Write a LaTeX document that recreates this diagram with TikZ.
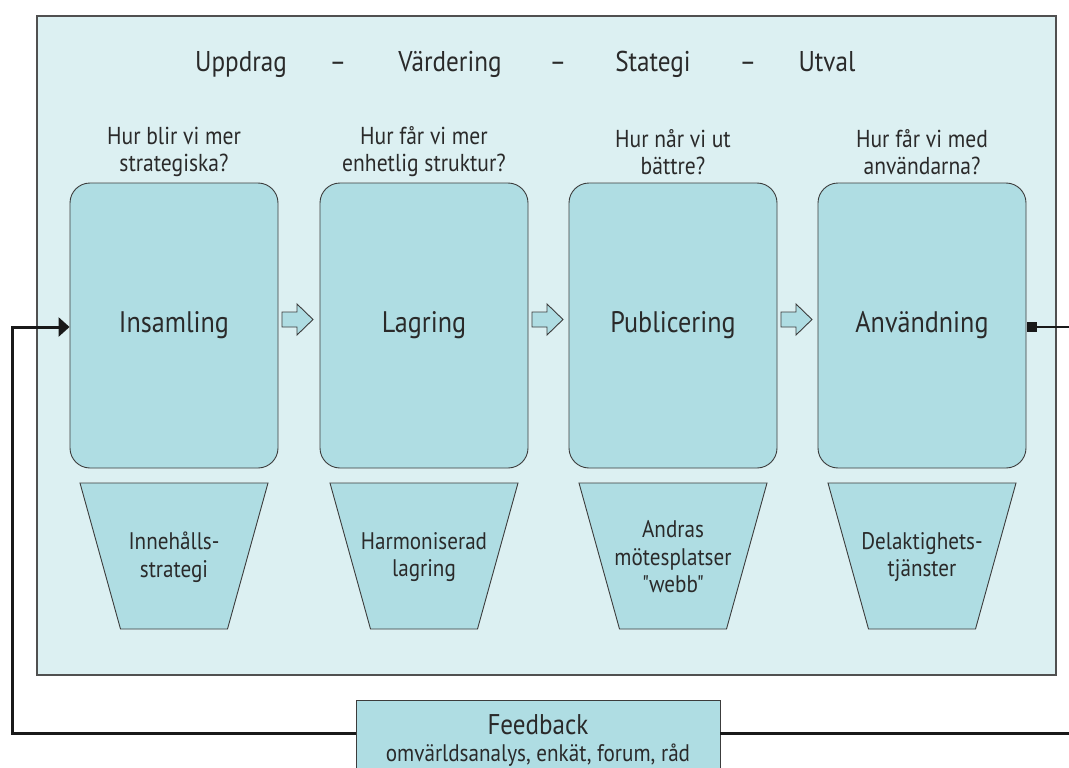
\documentclass[tikz,border=0pt]{standalone}
\usepackage{fontspec}
\setmainfont[FakeStretch=0.88]{PT Sans}
\newfontfamily\plainq[FakeStretch=0.88]{PT Sans}
\usetikzlibrary{arrows.meta}
\definecolor{panelfill}{HTML}{DCF0F2}
\definecolor{boxfill}{HTML}{AFDDE3}
\definecolor{edge}{HTML}{3C3C3C}
\definecolor{txt}{HTML}{2A2A2A}
\tikzset{
  stagebox/.style={draw=edge,line width=0.9pt,fill=boxfill,rounded corners=20pt,minimum width=208pt,minimum height=285pt,inner sep=0pt},
  funnel/.style={draw=edge,line width=0.9pt,fill=boxfill},
  flowarrow/.style={draw=edge,line width=0.9pt,fill=boxfill,line join=miter},
  headtxt/.style={font=\fontsize{28.6}{30}\selectfont,text=txt,anchor=base,inner sep=0pt},
  stagetxt/.style={font=\fontsize{29.7}{32}\selectfont,text=txt,anchor=base,inner sep=0pt},
  qtxt/.style={font=\fontsize{24.5}{27}\selectfont,text=txt,align=center,inner sep=0pt},
  ftxt/.style={font=\fontsize{24}{27.5}\selectfont,text=txt,align=center,inner sep=0pt},
  loop/.style={draw=black!90,line width=3pt},
}
\newcommand{\funnelat}[1]{%
  \draw[funnel] (#1-94,483) -- (#1+94,483) -- (#1+53.5,629) -- (#1-53.5,629) -- cycle;}
\newcommand{\flowat}[1]{%
  \draw[flowarrow] (#1,312) -- (#1+15,312) -- (#1+15,304) -- (#1+31,319.5) -- (#1+15,335) -- (#1+15,327) -- (#1,327) -- cycle;}
\begin{document}
\begin{tikzpicture}[x=1pt,y=-1pt]
\useasboundingbox (0,0) rectangle (1069,768);
\clip (0,0) rectangle (1069,768);
% panel
\node[draw=edge!90,line width=1.6pt,fill=panelfill,minimum width=1019pt,minimum height=659pt,inner sep=0pt] (panel) at (546.5,345.5) {};
% header
\node[headtxt] (h1) at (241,72) {Uppdrag};
\node[headtxt] (d1) at (338,72) {–};
\node[headtxt] (h2) at (450,72) {Värdering};
\node[headtxt] (d2) at (558,72) {–};
\node[headtxt] (h3) at (653,72) {Stategi};
\node[headtxt] (d3) at (748,72) {–};
\node[headtxt] (h4) at (827,72) {Utval};
% questions
\node[qtxt] (q1) at (174,152) {Hur blir vi mer\\strategiska?};
\node[qtxt] (q2) at (424,152) {Hur får vi mer\\enhetlig struktur?};
\node[qtxt] (q3) at (673,152) {Hur når vi ut\\bättre?};
\node[qtxt] (q4) at (922,152) {Hur får vi med\\användarna?};
% stage boxes
\node[stagebox] (b1) at (174,325.5) {};
\node[stagebox] (b2) at (424,325.5) {};
\node[stagebox] (b3) at (673,325.5) {};
\node[stagebox] (b4) at (922,325.5) {};
\node[stagetxt] (t1) at (174,332) {Insamling};
\node[stagetxt] (t2) at (424,332) {Lagring};
\node[stagetxt] (t3) at (673,332) {Publicering};
\node[stagetxt] (t4) at (922,332) {Användning};
% flow arrows
\flowat{282}
\flowat{532}
\flowat{781}
% funnels
\funnelat{174}
\funnelat{424}
\funnelat{673}
\funnelat{922}
\node[ftxt] (ft1) at (174,557) {Innehålls-\\strategi};
\node[ftxt] (ft2) at (424,557) {Harmoniserad\\lagring};
\node[ftxt] (ft3) at (673,557) {Andras\\mötesplatser\\{\plainq "webb"}};
\node[ftxt] (ft4) at (922,557) {Delaktighets-\\tjänster};
% feedback
\node[draw=edge,line width=0.9pt,fill=boxfill,minimum width=364pt,minimum height=90pt,inner sep=0pt] (fb) at (538,745) {};
\node[font=\fontsize{28.5}{30}\selectfont,text=txt,anchor=base,inner sep=0pt] (fbt) at (538,734) {Feedback};
\node[font=\fontsize{24}{26}\selectfont,text=txt,anchor=base,inner sep=0pt] (fbs) at (538,761) {omvärldsanalys, enkät, forum, råd};
% loop connectors
\coordinate (rtop) at (1090,327);
\coordinate (rbot) at (1090,733);
\coordinate (fbe) at (720,733);
\coordinate (fbw) at (356,733);
\coordinate (lbot) at (12,733);
\coordinate (ltop) at (12,327);
\coordinate (b1in) at (b1.west |- ltop);
\node[fill=black!90,minimum size=10pt,inner sep=0pt] (sq) at (1032,327) {};
\draw[loop,line width=2.2pt] (sq.east) -- (rtop);
\draw[loop] (rtop) -- (rbot) -- (fbe);
\draw[loop,-{Triangle[length=11pt,width=19pt]}] (fbw) -- (lbot) -- (ltop) -- (b1in);
\end{tikzpicture}
\end{document}
